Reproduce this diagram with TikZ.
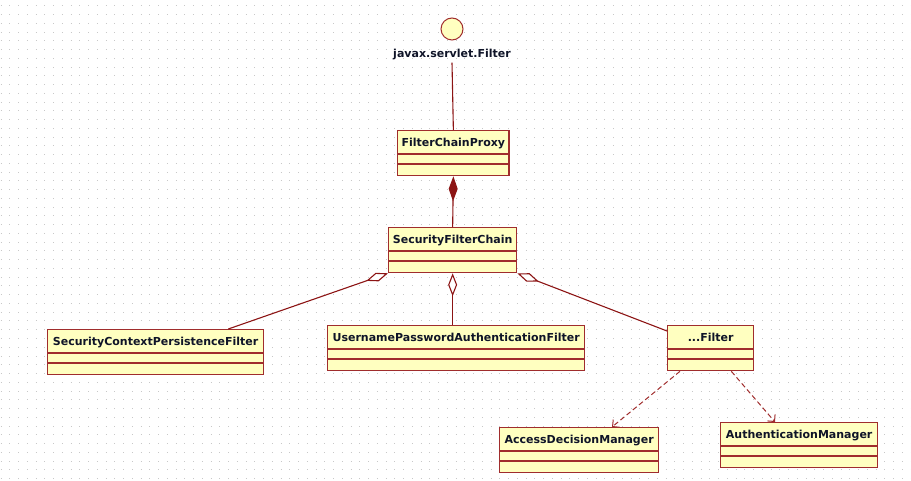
\documentclass[tikz,border=0pt]{standalone}
\usepackage{fontspec}
\setmainfont{DejaVu Sans}
\usetikzlibrary{arrows.meta}
\definecolor{umlfill}{RGB}{255,255,192}
\definecolor{umlline}{RGB}{160,45,45}
\definecolor{umllink}{RGB}{140,20,20}
\definecolor{umltext}{RGB}{15,20,40}
\definecolor{griddot}{RGB}{200,200,200}

\begin{document}
\begin{tikzpicture}[x=1pt, y=-1pt,
    umlclass/.style = {draw=umlline, fill=umlfill, line width=1.3pt, text=umltext,
        font=\fontsize{11}{13}\selectfont\bfseries, anchor=north west,
        minimum height=45pt, text height=12pt, text depth=25pt, inner xsep=4pt, inner ysep=4pt},
    iface/.style = {circle, draw=umlline, fill=umlfill, line width=1pt, minimum size=22pt, inner sep=0pt},
    compose/.style = {umllink, line width=1.1pt, {Diamond[length=25pt, width=9pt, fill=umllink]}-},
    aggr/.style = {umllink, line width=1.1pt, {Diamond[open, length=23pt, width=9pt, fill=white]}-},
    depend/.style = {umlline, line width=1pt, dash pattern=on 5pt off 3pt, -{Straight Barb[length=5pt, width=10pt]}}]

    \useasboundingbox (0,0) rectangle (911,481);

    % dotted grid
    \foreach \k in {0,...,54}
        \draw[griddot, line width=1pt, dash pattern=on 1pt off 7.75pt] (0.5,6+8.75*\k) -- (911,6+8.75*\k);

    % interface
    \node[iface] (filter) at (452,29) {};
    \node[text=umltext, font=\fontsize{11}{13}\selectfont\bfseries, inner sep=2pt] (filterlbl) at (452,55) {javax.servlet.Filter};

    % classes
    \node[umlclass, minimum width=111pt] (proxy) at (397,130) {FilterChainProxy};
    \node[umlclass, minimum width=128pt] (chain) at (388,227) {SecurityFilterChain};
    \node[umlclass, minimum width=216pt] (scpf) at (47,329) {SecurityContextPersistenceFilter};
    \node[umlclass, minimum width=257pt] (upaf) at (327,325) {UsernamePasswordAuthenticationFilter};
    \node[umlclass, minimum width=86pt] (etc) at (667,325) {...Filter};
    \node[umlclass, minimum width=159pt] (adm) at (499,427) {AccessDecisionManager};
    \node[umlclass, minimum width=157pt] (auth) at (720,422) {AuthenticationManager};

    % compartments
    \foreach \c in {proxy,chain,scpf,upaf,etc,adm,auth}
        \draw[umlline, line width=1.3pt] ([yshift=-24pt]\c.north west) -- ([yshift=-24pt]\c.north east)
            ([yshift=-34pt]\c.north west) -- ([yshift=-34pt]\c.north east);

    % realization and composition
    \draw[umllink, line width=1.1pt] (filterlbl.south) -- (proxy.north);
    \draw[compose] (proxy.south) -- (chain.north);

    % aggregations
    \draw[aggr] (chain.south west) -- ([xshift=-36pt]scpf.north east);
    \draw[aggr] (chain.south) -- (chain.south |- upaf.north);
    \draw[aggr] (chain.south east) -- ([yshift=-6pt]etc.north west);

    % dependencies
    \draw[depend] ([xshift=13pt]etc.south west) -- ([xshift=113pt]adm.north west);
    \draw[depend] ([xshift=-23pt]etc.south east) -- ([xshift=55pt]auth.north west);

\end{tikzpicture}
\end{document}
